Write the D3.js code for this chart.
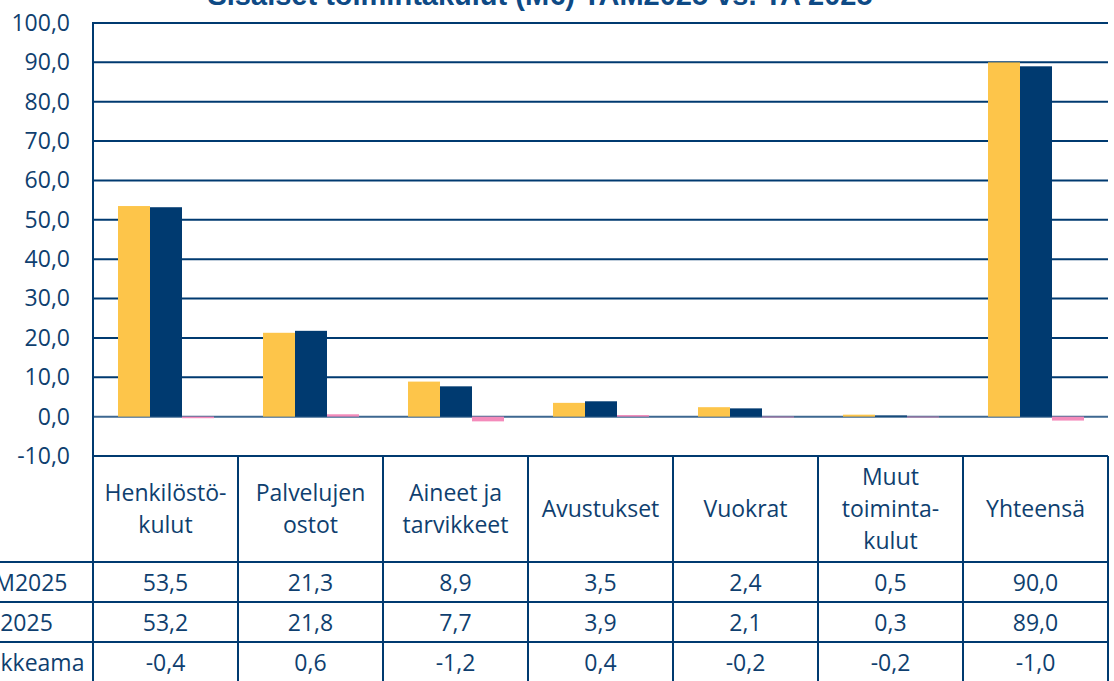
<!DOCTYPE html>
<html>
<head>
    <meta charset="utf-8">
    <script src="https://d3js.org/d3.v7.min.js"></script>
    <style>
        body { margin: 0; background: #fff; }
        svg { display: block; }
    </style>
</head>
<body>
    <div id="chart"></div>

    <script>
        // Data
        const categories = [
            ["Henkilöstö-", "kulut"],
            ["Palvelujen", "ostot"],
            ["Aineet ja", "tarvikkeet"],
            ["Avustukset"],
            ["Vuokrat"],
            ["Muut", "toiminta-", "kulut"],
            ["Yhteensä"]
        ];
        const seriesNames = ["TAM2025", "TA 2025", "Poikkeama"];
        const tam2025 = [53.5, 21.3, 8.9, 3.5, 2.4, 0.5, 90.0];
        const ta2025 = [53.2, 21.8, 7.7, 3.9, 2.1, 0.3, 89.0];
        const poikkeama = [-0.4, 0.6, -1.2, 0.4, -0.2, -0.2, -1.0];
        const yTicks = [-10, 0, 10, 20, 30, 40, 50, 60, 70, 80, 90, 100];
        const title = "Sisäiset toimintakulut (M€) TAM2025 vs. TA 2025";

        const series = [tam2025, ta2025, poikkeama];
        const colors = ["#fdc54a", "#003a70", "#f48bbb"];
        const textColor = "#0f3f6f";
        const lineColor = "#003a70";
        const font = "'Open Sans', sans-serif";
        const fs = "23px";

        // finnish number format: comma decimal, plain hyphen
        const fmt = d => d3.format(".1f")(d).replace(".", ",").replace("\u2212", "-");

        const W = 1114, H = 681;
        const plotLeft = 93, plotRight = 1108, plotTop = 23, plotBottom = 456;
        const headerBottom = 562, rowH = 40;

        const svg = d3.select("#chart").append("svg")
            .attr("width", W)
            .attr("height", H)
            .style("font-family", font);

        const y = d3.scaleLinear().domain([-10, 100]).range([plotBottom, plotTop]);
        const x = d3.scaleBand().domain(d3.range(categories.length)).range([plotLeft, plotRight]);
        const x1 = d3.scaleBand().domain(d3.range(series.length))
            .range([25, 25 + 96]);

        // title (cut at the top edge)
        svg.append("text")
            .attr("x", 540)
            .attr("y", 5)
            .attr("text-anchor", "middle")
            .attr("fill", "#0e4a85")
            .style("font-family", "'Liberation Sans', Arial, sans-serif")
            .style("font-weight", "bold")
            .style("font-size", "29px")
            .text(title);

        // gridlines
        svg.append("g").selectAll("line")
            .data(yTicks)
            .join("line")
            .attr("x1", plotLeft)
            .attr("x2", plotRight)
            .attr("y1", d => y(d))
            .attr("y2", d => y(d))
            .attr("stroke", d => d === 0 ? "#3d6790" : lineColor)
            .attr("stroke-width", 2);

        // y axis labels
        const yAxis = d3.axisLeft(y)
            .tickValues(yTicks)
            .tickSize(0)
            .tickPadding(23)
            .tickFormat(fmt);
        const ya = svg.append("g")
            .attr("transform", `translate(${plotLeft},0)`)
            .call(yAxis);
        ya.select(".domain").remove();
        ya.selectAll("text")
            .attr("fill", textColor)
            .style("font-family", font)
            .style("font-size", fs);

        // bars
        const groups = svg.append("g").selectAll("g")
            .data(series)
            .join("g")
            .attr("fill", (d, i) => colors[i]);
        groups.each(function (vals, si) {
            d3.select(this).selectAll("rect")
                .data(vals)
                .join("rect")
                .attr("x", (d, ci) => x(ci) + x1(si))
                .attr("width", x1.bandwidth())
                .attr("y", d => y(Math.max(0, d)))
                .attr("height", d => Math.abs(y(d) - y(0)));
        });

        // plot area left border
        svg.append("line")
            .attr("x1", plotLeft).attr("x2", plotLeft)
            .attr("y1", plotTop - 1).attr("y2", H)
            .attr("stroke", lineColor).attr("stroke-width", 2);

        // data table
        const table = svg.append("g");
        const rowYs = [headerBottom, headerBottom + rowH, headerBottom + 2 * rowH];
        table.selectAll("line.h")
            .data(rowYs)
            .join("line")
            .attr("class", "h")
            .attr("x1", 0).attr("x2", plotRight)
            .attr("y1", d => d).attr("y2", d => d)
            .attr("stroke", lineColor).attr("stroke-width", 2);
        table.selectAll("line.v")
            .data(d3.range(1, categories.length + 1))
            .join("line")
            .attr("class", "v")
            .attr("x1", i => x(0) + i * x.bandwidth())
            .attr("x2", i => x(0) + i * x.bandwidth())
            .attr("y1", plotBottom).attr("y2", H)
            .attr("stroke", lineColor).attr("stroke-width", 2);

        // header labels
        const lh = 32;
        table.selectAll("text.cat")
            .data(categories)
            .join("text")
            .attr("class", "cat")
            .attr("text-anchor", "middle")
            .attr("fill", textColor)
            .style("font-size", fs)
            .each(function (lines, i) {
                const cy = (plotBottom + headerBottom) / 2 + 8;
                const y0 = cy - (lines.length - 1) * lh / 2;
                d3.select(this).selectAll("tspan")
                    .data(lines)
                    .join("tspan")
                    .attr("x", x(i) + x.bandwidth() / 2)
                    .attr("y", (d, k) => y0 + k * lh)
                    .text(d => d);
            });

        // row labels and values
        series.forEach((vals, si) => {
            const ty = headerBottom + si * rowH + rowH / 2 + 9;
            table.append("text")
                .attr("x", -33)
                .attr("y", ty)
                .attr("fill", textColor)
                .style("font-size", fs)
                .text(seriesNames[si]);
            table.append("g").selectAll("text")
                .data(vals)
                .join("text")
                .attr("x", (d, i) => x(i) + x.bandwidth() / 2)
                .attr("y", ty)
                .attr("text-anchor", "middle")
                .attr("fill", textColor)
                .style("font-size", fs)
                .text(fmt);
        });
    </script>
</body>
</html>
